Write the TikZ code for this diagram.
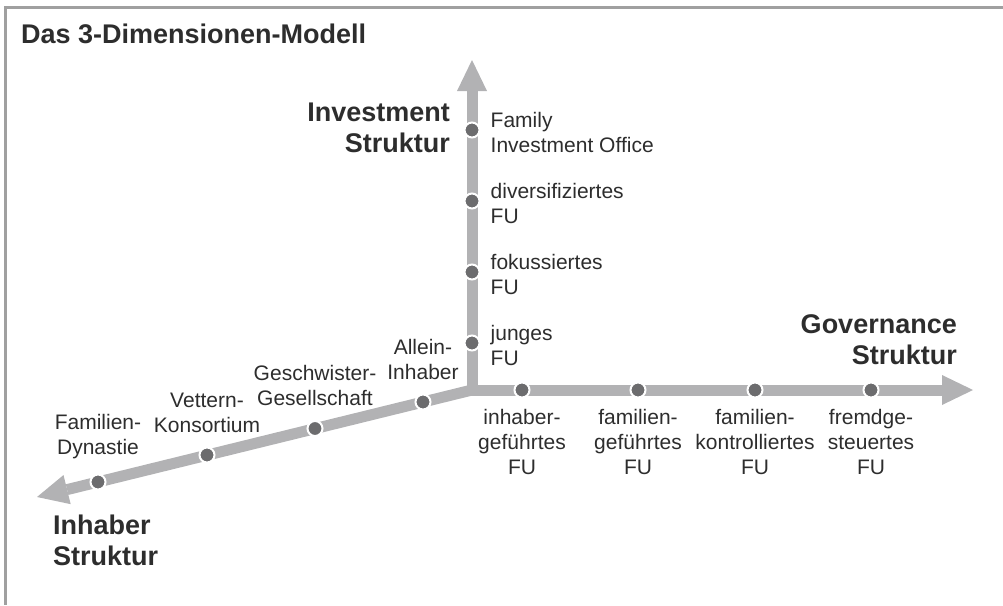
\documentclass[tikz,border=0pt]{standalone}
\usepackage{fontspec}
\setmainfont{Liberation Sans}
\usepackage{tikz}
\usetikzlibrary{arrows.meta}
\usetikzlibrary{positioning}

\definecolor{achsgrau}{RGB}{178,178,180}
\definecolor{punktgrau}{RGB}{108,108,110}
\definecolor{textgrau}{RGB}{45,45,45}
\definecolor{rahmengrau}{RGB}{160,160,160}

\tikzset{
  achse/.style={line width=11pt, draw=achsgrau, -{Triangle[length=31pt,width=30pt,line width=0pt]}},
  punkt/.style={circle, fill=punktgrau, draw=white, line width=2pt, minimum size=15pt, inner sep=0pt, outer sep=0pt},
  eintrag/.style={font=\fontsize{21}{25}\selectfont, text=textgrau, inner sep=0pt},
  kopf/.style={font=\fontsize{27}{31}\selectfont\bfseries, text=textgrau, inner sep=0pt}
}

\begin{document}
\begin{tikzpicture}[x=1pt, y=-1pt]
\useasboundingbox (0,0) rectangle (1003,605);
\draw[rahmengrau, line width=3pt] (1003,7.5) -- (5.5,7.5) -- (5.5,605);
\node[kopf, anchor=west] (titel) at (21,34) {Das 3-Dimensionen-Modell};

\coordinate (O) at (472,390);
\coordinate (gSpitze) at (973,390);
\coordinate (iSpitze) at (472,60);
\coordinate (oSpitze) at (37,497);
\draw[achse] (472,395.5) -- (iSpitze);
\draw[achse] (466.5,390) -- (gSpitze);
\draw[achse] (O) -- (oSpitze);

\node[punkt] (g1) at (522,390) {};
\node[punkt] (g2) at (638,390) {};
\node[punkt] (g3) at (755,390) {};
\node[punkt] (g4) at (871,390) {};
\node[punkt] (i1) at (472,343) {};
\node[punkt] (i2) at (472,272) {};
\node[punkt] (i3) at (472,201) {};
\node[punkt] (i4) at (472,130) {};
\node[punkt] (o1) at (423,402) {};
\node[punkt] (o2) at (315,428.5) {};
\node[punkt] (o3) at (207,455) {};
\node[punkt] (o4) at (98,482) {};

\node[eintrag, align=center, below=12pt of g1] (gl1) {inhaber-\\geführtes\\FU};
\node[eintrag, align=center, below=12pt of g2] (gl2) {familien-\\geführtes\\FU};
\node[eintrag, align=center, below=12pt of g3] (gl3) {familien-\\kontrolliertes\\FU};
\node[eintrag, align=center, below=12pt of g4] (gl4) {fremdge-\\steuertes\\FU};

\node[eintrag, align=left, right=11pt of i1, yshift=-2pt] (il1) {junges\\FU};
\node[eintrag, align=left, right=11pt of i2, yshift=-2pt] (il2) {fokussiertes\\FU};
\node[eintrag, align=left, right=11pt of i3, yshift=-2pt] (il3) {diversifiziertes\\FU};
\node[eintrag, align=left, right=11pt of i4, yshift=-2pt] (il4) {Family\\Investment Office};

\node[eintrag, align=center, above=15pt of o1] (ol1) {Allein-\\Inhaber};
\node[eintrag, align=center, above=15pt of o2] (ol2) {Geschwister-\\Gesellschaft};
\node[eintrag, align=center, above=15pt of o3] (ol3) {Vettern-\\Konsortium};
\node[eintrag, align=center, above=15pt of o4] (ol4) {Familien-\\Dynastie};

\node[kopf, align=right, anchor=east] (gKopf) at (957,340) {Governance\\Struktur};
\node[kopf, align=right, anchor=east] (iKopf) at (450,128) {Investment\\Struktur};
\node[kopf, align=left, anchor=west] (oKopf) at (53,540) {Inhaber\\Struktur};
\end{tikzpicture}
\end{document}
